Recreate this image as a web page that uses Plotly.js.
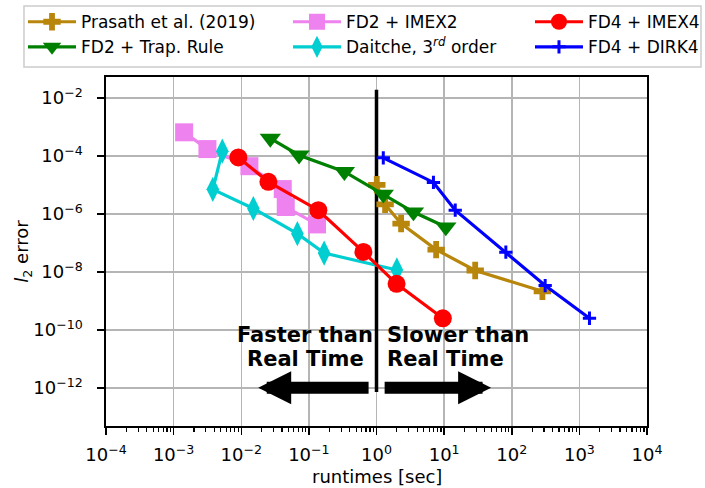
<!DOCTYPE html>
<html>
<head>
<meta charset="utf-8">
<script src="https://cdn.plot.ly/plotly-3.0.1.min.js"></script>
<style>html,body{margin:0;padding:0;background:#fff;}#chart{width:705px;height:488px;}</style>
</head>
<body>
<div id="chart"></div>
<script>
// ---- data (runtime [sec], l2 error) ----
const prasathX = [1.01, 1.34, 2.31, 7.62, 28.8, 284];
const prasathY = [1.02e-5, 2.14e-6, 4.68e-7, 5.89e-8, 1.12e-8, 2.14e-9];

const trapX = [0.0269, 0.0716, 0.335, 1.26, 3.52, 10.6];
const trapY = [4.07e-4, 1.07e-4, 2.88e-5, 4.79e-6, 1.17e-6, 3.55e-7];

const imex2X = [0.00143, 0.00316, 0.0132, 0.0411, 0.0455, 0.132];
const imex2Y = [6.6e-4, 1.74e-4, 4.47e-5, 7.24e-6, 1.74e-6, 4.37e-7];

const daitcheX = [0.00525, 0.0038, 0.0151, 0.0676, 0.168, 2.0];
const daitcheY = [1.48e-4, 7.08e-6, 1.55e-6, 2.09e-7, 4.47e-8, 1.17e-8];

const imex4X = [0.00906, 0.0252, 0.138, 0.64, 1.98, 9.57];
const imex4Y = [9.0e-5, 1.29e-5, 1.35e-6, 4.9e-8, 3.89e-9, 2.51e-10];

const dirk4X = [1.26, 6.95, 14.6, 81.8, 312, 1410];
const dirk4Y = [8.7e-5, 1.23e-5, 1.35e-6, 4.79e-8, 3.39e-9, 2.51e-10];

// real-time divider (runtime = 1 s)
const dividerX = [1, 1];
const dividerY = [0.0195, 7.2e-13];

// tick labels
const xTickVals = [1e-4, 1e-3, 1e-2, 1e-1, 1e0, 1e1, 1e2, 1e3, 1e4];
const xTickText = ['10<sup>\u22124</sup>','10<sup>\u22123</sup>','10<sup>\u22122</sup>','10<sup>\u22121</sup>',
                   '10<sup>0</sup>','10<sup>1</sup>','10<sup>2</sup>','10<sup>3</sup>','10<sup>4</sup>'];
const yTickVals = [1e-2, 1e-4, 1e-6, 1e-8, 1e-10, 1e-12];
const yTickText = ['10<sup>\u22122</sup>','10<sup>\u22124</sup>','10<sup>\u22126</sup>','10<sup>\u22128</sup>',
                   '10<sup>\u221210</sup>','10<sup>\u221212</sup>'];

const FONT = 'DejaVu Sans';
const LW = 3.2;

function series(name, x, y, color, symbol, size, legendId, extraMarker) {
  return {
    type: 'scatter', mode: 'lines+markers', name: name, x: x, y: y,
    line: {color: color, width: LW},
    marker: Object.assign({color: color, symbol: symbol, size: size, line: {width: 0}}, extraMarker || {}),
    legend: legendId
  };
}

const traces = [
  {type:'scatter', mode:'lines', x: dividerX, y: dividerY, line:{color:'#000', width:3.5},
   showlegend:false, hoverinfo:'skip'},
  series('Prasath et al. (2019)', prasathX, prasathY, '#b8860b', 'cross', 14.5, 'legend'),
  series('FD2 + Trap. Rule', trapX, trapY, '#008000', 'triangle-down', 18.5, 'legend'),
  series('FD2 + IMEX2', imex2X, imex2Y, '#ee82ee', 'square', 18, 'legend2'),
  series('Daitche, 3<sup><i>rd</i></sup> order', daitcheX, daitcheY, '#00ced1', 'diamond-tall', 18, 'legend2'),
  series('FD4 + IMEX4', imex4X, imex4Y, '#ff0000', 'circle', 18, 'legend3'),
  series('FD4 + DIRK4', dirk4X, dirk4Y, '#0000ff', 'cross-thin', 9.5, 'legend3', {line:{width:3, color:'#0000ff'}})
];

const axisCommon = {
  type: 'log',
  showgrid: true, gridcolor: '#b5b5b5', gridwidth: 1.5,
  showline: true, linecolor: '#000', linewidth: 1.6, mirror: true,
  ticks: 'outside', ticklen: 7, tickwidth: 1.5, tickcolor: '#000',
  tickfont: {family: FONT, size: 18, color: '#000'},
  zeroline: false
};

function legendAt(xPaper) {
  return {
    orientation: 'v', xref: 'paper', yref: 'paper',
    x: xPaper, y: 1.2086, xanchor: 'left', yanchor: 'top',
    bgcolor: 'rgba(0,0,0,0)', borderwidth: 0,
    font: {family: FONT, size: 17, color: '#000'},
    itemwidth: 48, tracegroupgap: 0
  };
}

const layout = {
  width: 705, height: 488,
  margin: {l: 106, r: 58, t: 77, b: 62, pad: 0, autoexpand: false},
  paper_bgcolor: '#fff', plot_bgcolor: '#fff',
  font: {family: FONT, size: 17, color: '#000'},
  xaxis: Object.assign({}, axisCommon, {
    range: [-4, 4],
    tickmode: 'array', tickvals: xTickVals, ticktext: xTickText,
    ticklabelstandoff: 5,
    minor: {ticks: 'outside', ticklen: 4, tickwidth: 1.2, tickcolor: '#000', showgrid: false, dtick: 'D1'}
  }),
  yaxis: Object.assign({}, axisCommon, {
    range: [-13.32, -1.27],
    tickmode: 'array', tickvals: yTickVals, ticktext: yTickText,
    ticklabelstandoff: 11,
    title: {text: '<i>l</i><sub>2</sub> error', font: {family: FONT, size: 18}, standoff: 0}
  }),
  showlegend: true,
  legend: legendAt(-0.1534),
  legend2: legendAt(0.3364),
  legend3: legendAt(0.7837),
  shapes: [
    {type: 'rect', xref: 'paper', yref: 'paper', x0: -0.1516, x1: 1.0998, y0: 1.0287, y1: 1.2034,
     line: {color: '#cccccc', width: 1.5}, fillcolor: 'rgba(0,0,0,0)', layer: 'below'}
  ],
  annotations: [
    {xref:'paper', yref:'paper', x: 0.5, y: -0.1433, xanchor: 'center', yanchor: 'middle',
     text: 'runtimes [sec]', showarrow: false, font: {family: FONT, size: 18, color: '#000'}},
    {xref:'x', yref:'y', axref:'x', ayref:'y', x: -1.75, y: -12.0, ax: -0.095, ay: -12.0,
     text: '', showarrow: true, arrowhead: 2, arrowsize: 0.55, arrowwidth: 12, arrowcolor: '#000', standoff: 0, startstandoff: 0},
    {xref:'x', yref:'y', axref:'x', ayref:'y', x: 1.695, y: -12.0, ax: 0.098, ay: -12.0,
     text: '', showarrow: true, arrowhead: 2, arrowsize: 0.55, arrowwidth: 12, arrowcolor: '#000', standoff: 0, startstandoff: 0},
    {xref:'x', yref:'y', x: -1.05, y: -10.18, xanchor: 'center', yanchor: 'middle',
     text: '<b>Faster than</b>', showarrow: false, font: {family: FONT, size: 21, color: '#000'}},
    {xref:'x', yref:'y', x: -1.05, y: -10.99, xanchor: 'center', yanchor: 'middle',
     text: '<b>Real Time</b>', showarrow: false, font: {family: FONT, size: 21, color: '#000'}},
    {xref:'x', yref:'y', x: 0.127, y: -10.18, xanchor: 'left', yanchor: 'middle',
     text: '<b>Slower than</b>', showarrow: false, font: {family: FONT, size: 21, color: '#000'}},
    {xref:'x', yref:'y', x: 0.127, y: -10.99, xanchor: 'left', yanchor: 'middle',
     text: '<b>Real Time</b>', showarrow: false, font: {family: FONT, size: 21, color: '#000'}}
  ]
};

Plotly.newPlot('chart', traces, layout, {displayModeBar: false, staticPlot: true});
</script>
</body>
</html>
